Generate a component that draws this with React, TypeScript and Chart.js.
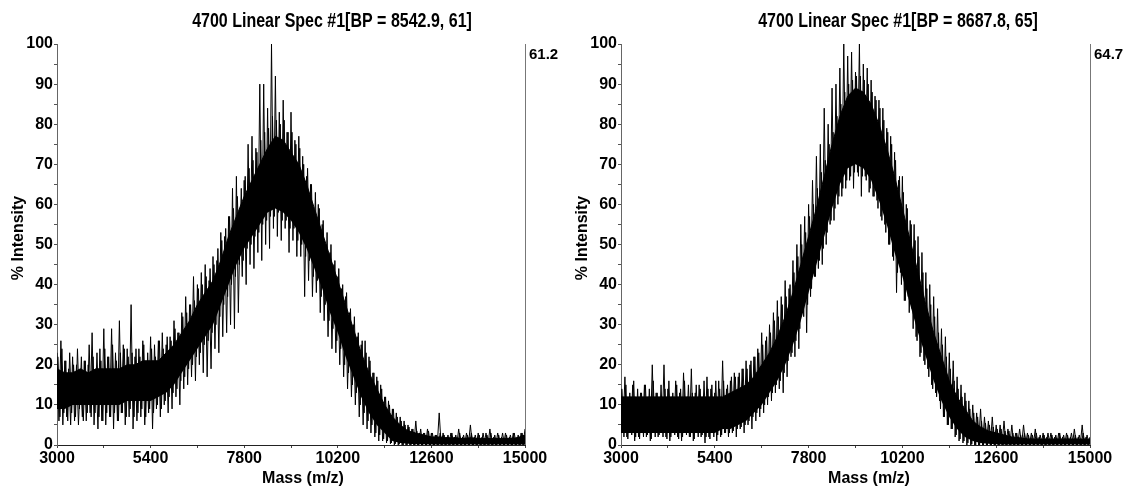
import React, { useEffect, useRef } from 'react';
import { Chart, registerables } from 'chart.js';

Chart.register(...registerables);

// ---------- axis / tick definitions ----------
const MASS_MIN = 3000;
const MASS_MAX = 15000;
const MASS_TICK_STEP = 1200;
const MASS_LABEL_STEP = 2400;
const INT_MIN = 0;
const INT_MAX = 100;
const INT_TICK_STEP = 5;
const INT_LABEL_STEP = 10;
const SPIKE_STEP = 100; // spike maxima every 100 m/z, minima halfway between
const CORE_STEP = 200;  // dense core band sampled every 200 m/z

// ---------- spectrum A (left) ----------
const TITLE_A = '4700 Linear Spec #1[BP = 8542.9, 61]';
const MAXLABEL_A = '61.2';
// tall spikes: maxima at 3000..15000, minima at 3050..14950
const spikeHiA = [
  23, 26, 21, 19, 22, 20, 17, 21, 20, 28,
  19, 24, 29, 22, 29, 23, 31, 25, 24, 35,
  22, 24, 26, 20, 27, 25, 26, 28, 25, 27,
  31, 28, 33, 37, 35, 42, 40, 43, 45, 41,
  47, 46, 53, 52, 57, 64, 67, 59, 66, 75,
  77, 74, 90, 90, 84, 100, 92, 83, 86, 78,
  83, 76, 77, 72, 67, 65, 58, 60, 55, 50,
  48, 45, 42, 39, 37, 33, 30, 27, 25, 26,
  22, 18, 17, 15, 12, 11, 9, 8, 7, 6,
  5, 4, 6, 3, 3, 4, 3, 2.5, 8, 3,
  2, 3, 2, 4, 2, 3, 5, 2, 3, 2,
  3, 4, 2, 3, 2, 3, 2, 3, 2, 3,
  4,
];
const spikeLoA = [
  6, 5, 7, 5, 6, 5, 7, 6, 8, 5,
  4, 6, 5, 7, 4, 6, 8, 5, 7, 4,
  6, 7, 5, 8, 4, 9, 7, 10, 8, 9,
  12, 10, 14, 15, 17, 16, 20, 18, 17, 19,
  24, 23, 27, 28, 30, 29, 33, 42, 40, 45,
  44, 48, 46, 50, 49, 54, 52, 51, 54, 48,
  51, 47, 47, 37, 41, 37, 38, 33, 31, 27,
  24, 23, 20, 17, 14, 12, 10, 7, 5, 4,
  3, 2, 1, 1, 0.5, 0.3, 0, 0, 0, 0,
  0, 0, 0, 0, 0, 0, 0, 0, 0, 0,
  0, 0, 0, 0, 0, 0, 0, 0, 0, 0,
  0, 0, 0, 0, 0, 0, 0, 0, 0, 0,
];
// shorter spikes fringing the band: maxima at 3025..14925, minima at 3075..14975
const midHiA = [
  22, 24, 21, 23, 20, 24, 22, 21, 25, 22,
  23, 21, 24, 22, 25, 21, 23, 24, 22, 23,
  24, 22, 25, 23, 24, 22, 26, 24, 27, 26,
  29, 28, 32, 33, 35, 36, 39, 40, 42, 44,
  45, 49, 51, 54, 57, 59, 62, 64, 67, 69,
  71, 73, 76, 78, 79, 82, 81, 80, 81, 78,
  78, 75, 74, 70, 69, 65, 63, 59, 56, 53,
  50, 46, 44, 40, 38, 34, 32, 28, 26, 23,
  21, 18, 16, 14, 12, 10, 9, 7, 6, 5,
  4.5, 4, 3.5, 4, 3, 3.5, 3, 2.5, 3, 2.5,
  2.5, 3, 2.5, 3, 2.5, 2.5, 3, 2.5, 2.5, 3,
  2.5, 3, 2.5, 2.5, 3, 2.5, 2.5, 3, 2.5, 3,
];
const midLoA = [
  7, 8, 6, 8, 7, 9, 6, 8, 7, 8,
  7, 6, 8, 7, 8, 6, 8, 7, 9, 7,
  8, 9, 7, 9, 8, 10, 9, 11, 12, 13,
  14, 16, 17, 19, 20, 22, 23, 25, 26, 28,
  30, 32, 35, 37, 40, 42, 45, 46, 49, 50,
  52, 53, 55, 56, 57, 57, 58, 56, 56, 54,
  54, 51, 50, 47, 46, 42, 41, 37, 35, 31,
  29, 26, 24, 20, 18, 15, 13, 10, 8, 6,
  5, 3, 2.5, 1.5, 1, 0.5, 0.3, 0.2, 0, 0,
  0, 0, 0, 0, 0, 0, 0, 0, 0, 0,
  0, 0, 0, 0, 0, 0, 0, 0, 0, 0,
  0, 0, 0, 0, 0, 0, 0, 0, 0, 0,
];
const coreLoA = [
  9, 9, 10, 10, 10, 10, 10, 10, 10, 11,
  11, 11, 11, 12, 13, 15, 18, 21, 24, 27,
  30, 35, 40, 45, 49, 52, 55, 58, 59, 58,
  56, 53, 49, 44, 39, 33, 28, 22, 17, 12,
  8, 5, 3, 1, 0.5, 0.3, 0.2, 0.2, 0.1, 0.1,
  0.1, 0.1, 0.1, 0.1, 0.1, 0.1, 0.1, 0.1, 0.1, 0.1,
  0.1,
];
const coreHiA = [
  19, 18, 18, 19, 18, 19, 19, 19, 19, 20,
  20, 21, 21, 21, 23, 25, 28, 31, 35, 38,
  41, 46, 52, 57, 62, 66, 70, 74, 77, 76,
  73, 70, 65, 59, 53, 47, 41, 35, 29, 23,
  18, 14, 10, 7, 5, 3.5, 3, 2.5, 2, 2,
  1.8, 1.8, 1.6, 1.8, 1.6, 1.6, 1.6, 1.6, 1.6, 1.8,
  2.5,
];

// ---------- spectrum B (right) ----------
const TITLE_B = '4700 Linear Spec #1[BP = 8687.8, 65]';
const MAXLABEL_B = '64.7';
const spikeHiB = [
  14, 17, 12, 15, 11, 13, 15, 12, 20, 13,
  11, 20, 14, 12, 16, 13, 18, 12, 19, 13,
  15, 12, 17, 14, 13, 16, 21, 14, 16, 18,
  17, 19, 21, 20, 22, 24, 28, 26, 30, 33,
  36, 37, 41, 39, 46, 50, 55, 57, 60, 66,
  72, 75, 84, 80, 89, 90, 94, 100, 97, 98,
  93, 100, 95, 94, 91, 87, 86, 84, 79, 77,
  73, 66, 67, 60, 56, 55, 52, 48, 43, 40,
  37, 34, 29, 27, 23, 21, 17, 15, 13, 11,
  10, 8, 9, 7, 6, 7, 5, 5, 6, 4,
  5, 3, 4, 5, 3, 3, 4, 2, 3, 2,
  3, 2, 3, 2, 3, 2, 4, 2, 5, 2,
  2,
];
const spikeLoB = [
  3, 2, 3, 1, 2, 3, 2, 1, 3, 2,
  3, 2, 1, 3, 2, 1, 3, 2, 1, 3,
  2, 0.5, 2, 3, 1, 2, 3, 2, 3, 2,
  4, 3, 5, 4, 6, 7, 8, 10, 11, 13,
  14, 13, 17, 22, 22, 24, 33, 28, 37, 42,
  44, 45, 50, 55, 56, 60, 62, 64, 66, 64,
  68, 62, 67, 63, 62, 61, 57, 55, 50, 47,
  38, 43, 36, 37, 34, 27, 22, 21, 19, 15,
  13, 11, 7, 5, 4, 2, 1, 0.5, 0, 0,
  0, 0, 0, 0, 0, 0, 0, 0, 0, 0,
  0, 0, 0, 0, 0, 0, 0, 0, 0, 0,
  0, 0, 0, 0, 0, 0, 0, 0, 0, 0,
];
const midHiB = [
  14, 15, 13, 16, 14, 13, 15, 14, 16, 13,
  15, 14, 16, 13, 15, 14, 16, 15, 13, 15,
  14, 16, 14, 15, 16, 14, 16, 15, 17, 17,
  18, 19, 19, 21, 22, 23, 25, 27, 28, 31,
  32, 35, 37, 40, 43, 47, 50, 53, 57, 60,
  64, 68, 71, 75, 78, 82, 85, 88, 90, 91,
  92, 92, 91, 90, 88, 86, 84, 81, 78, 75,
  71, 67, 63, 59, 55, 51, 47, 43, 39, 35,
  32, 28, 25, 22, 19, 16, 14, 12, 11, 9,
  8, 7, 6, 5.5, 5, 4.5, 4, 4, 3.5, 3.5,
  3, 3, 2.5, 3, 2.5, 2.5, 3, 2.5, 2.5, 3,
  2.5, 2.5, 3, 2.5, 2.5, 3, 2.5, 2.5, 3, 2.5,
];
const midLoB = [
  2, 1.5, 2.5, 2, 1.5, 2, 2.5, 1.5, 2, 2.5,
  2, 1.5, 2, 2.5, 1.5, 2, 2.5, 2, 1.5, 2,
  2.5, 2, 1.5, 2, 2.5, 2.5, 3, 3, 3.5, 4,
  4.5, 5, 6, 7, 8, 9, 10, 12, 13, 15,
  16, 18, 21, 23, 26, 29, 32, 35, 39, 42,
  46, 49, 53, 56, 59, 62, 64, 66, 67, 68,
  67, 67, 66, 64, 62, 59, 56, 53, 50, 46,
  43, 40, 36, 33, 29, 26, 23, 20, 17, 14,
  12, 9, 7, 5, 4, 2.5, 1.5, 1, 0.5, 0.2,
  0, 0, 0, 0, 0, 0, 0, 0, 0, 0,
  0, 0, 0, 0, 0, 0, 0, 0, 0, 0,
  0, 0, 0, 0, 0, 0, 0, 0, 0, 0,
];
const coreLoB = [
  3, 3, 3, 3, 3, 3, 3, 3, 3, 3,
  3, 3, 3, 4, 4, 5, 6, 8, 10, 13,
  16, 20, 25, 31, 38, 45, 52, 59, 65, 69,
  70, 69, 66, 61, 55, 48, 42, 35, 28, 22,
  16, 11, 7, 4, 2, 1, 0.5, 0.3, 0.2, 0.1,
  0.1, 0.1, 0.1, 0.1, 0.1, 0.1, 0.1, 0.1, 0.1, 0.1,
  0.1,
];
const coreHiB = [
  12, 12, 12, 12, 12, 12, 12, 12, 12, 12,
  12, 12, 12, 12, 13, 14, 15, 17, 20, 23,
  27, 32, 38, 45, 52, 59, 67, 75, 82, 87,
  89, 88, 85, 80, 74, 67, 59, 51, 43, 35,
  28, 22, 16, 12, 9, 6, 4.5, 3.5, 3, 2.5,
  2, 1.8, 1.5, 1.5, 1.5, 1.5, 1.5, 1.5, 1.5, 1.5,
  1.5,
];

// ---------- helpers ----------
const FONT_FAMILY = '"Liberation Sans", Arial, Helvetica, sans-serif';

function zigzag(hi: number[], lo: number[], start: number) {
  const pts: { x: number; y: number }[] = [];
  for (let i = 0; i < hi.length; i++) {
    pts.push({ x: start + i * SPIKE_STEP, y: hi[i] });
    if (i < lo.length) pts.push({ x: start + i * SPIKE_STEP + SPIKE_STEP / 2, y: lo[i] });
  }
  return pts;
}

function corePoints(vals: number[]) {
  return vals.map((v, i) => ({ x: MASS_MIN + i * CORE_STEP, y: v }));
}

interface Spec {
  title: string;
  maxLabel: string;
  spikeHi: number[];
  spikeLo: number[];
  midHi: number[];
  midLo: number[];
  coreLo: number[];
  coreHi: number[];
  padRight: number;
  titleX: number;
  massX: number;
}

const SPEC_A: Spec = {
  title: TITLE_A, maxLabel: MAXLABEL_A, spikeHi: spikeHiA, spikeLo: spikeLoA,
  midHi: midHiA, midLo: midLoA,
  coreLo: coreLoA, coreHi: coreHiA, padRight: 39, titleX: 332, massX: 303,
};
const SPEC_B: Spec = {
  title: TITLE_B, maxLabel: MAXLABEL_B, spikeHi: spikeHiB, spikeLo: spikeLoB,
  midHi: midHiB, midLo: midLoB,
  coreLo: coreLoB, coreHi: coreHiB, padRight: 38, titleX: 334, massX: 305,
};

function decorPlugin(spec: Spec) {
  return {
    id: 'decor',
    afterDraw(chart: any) {
      const { ctx, chartArea } = chart;
      ctx.save();
      ctx.fillStyle = '#000';
      // title (tall lettering as in the reference)
      ctx.save();
      ctx.font = `bold 16px ${FONT_FAMILY}`;
      ctx.textAlign = 'center';
      ctx.textBaseline = 'middle';
      ctx.translate(spec.titleX, 21);
      ctx.scale(1, 1.25);
      ctx.fillText(spec.title, 0, 0);
      ctx.restore();
      // y axis title
      ctx.save();
      ctx.font = `bold 16px ${FONT_FAMILY}`;
      ctx.textAlign = 'center';
      ctx.textBaseline = 'middle';
      ctx.translate(19, 238);
      ctx.rotate(-Math.PI / 2);
      ctx.fillText('% Intensity', 0, 0);
      ctx.restore();
      // x axis title
      ctx.font = `bold 16px ${FONT_FAMILY}`;
      ctx.textAlign = 'center';
      ctx.textBaseline = 'middle';
      ctx.fillText('Mass (m/z)', spec.massX, 479);
      // right frame line
      ctx.strokeStyle = '#777';
      ctx.lineWidth = 1;
      ctx.beginPath();
      const rx = Math.round(chartArea.right) + 0.5;
      ctx.moveTo(rx, chartArea.top);
      ctx.lineTo(rx, chartArea.bottom);
      ctx.stroke();
      // max intensity label
      ctx.font = `bold 15px ${FONT_FAMILY}`;
      ctx.textAlign = 'left';
      ctx.textBaseline = 'middle';
      ctx.fillText(spec.maxLabel, chartArea.right + 4, 55);
      ctx.restore();
    },
  };
}

function makeConfig(spec: Spec): any {
  const tickFont = { family: FONT_FAMILY, size: 16, weight: 'bold' as const };
  return {
    type: 'line',
    data: {
      datasets: [
        {
          data: corePoints(spec.coreLo),
          borderWidth: 0,
          borderColor: '#000',
          pointRadius: 0,
          fill: false,
          order: 4,
        },
        {
          data: corePoints(spec.coreHi),
          borderWidth: 1,
          borderColor: '#000',
          backgroundColor: '#000',
          pointRadius: 0,
          fill: '-1',
          order: 3,
        },
        {
          data: zigzag(spec.midHi, spec.midLo, MASS_MIN + SPIKE_STEP / 4),
          borderWidth: 1,
          borderColor: '#000',
          pointRadius: 0,
          fill: false,
          order: 1,
        },
        {
          data: zigzag(spec.spikeHi, spec.spikeLo, MASS_MIN),
          borderWidth: 1,
          borderColor: '#000',
          pointRadius: 0,
          fill: false,
          order: 0,
        },
      ],
    },
    options: {
      animation: false,
      responsive: false,
      events: [],
      layout: { padding: { top: 44, right: spec.padRight, left: 0, bottom: 0 } },
      elements: { line: { tension: 0 } },
      plugins: {
        legend: { display: false },
        tooltip: { enabled: false },
        title: { display: false },
      },
      scales: {
        x: {
          type: 'linear',
          min: MASS_MIN,
          max: MASS_MAX,
          afterFit: (s: any) => { s.height = 46; },
          ticks: {
            stepSize: MASS_TICK_STEP,
            autoSkip: false,
            maxRotation: 0,
            padding: 1,
            color: '#000',
            font: tickFont,
            callback: (v: number) => ((v - MASS_MIN) % MASS_LABEL_STEP === 0 ? String(v) : ''),
          },
          grid: { drawOnChartArea: false, tickLength: 3, color: '#444' },
          border: { color: '#222', width: 1 },
        },
        y: {
          type: 'linear',
          min: INT_MIN,
          max: INT_MAX,
          afterFit: (s: any) => { s.width = 57; },
          ticks: {
            stepSize: INT_TICK_STEP,
            autoSkip: false,
            padding: 1,
            color: '#000',
            font: tickFont,
            callback: (v: number) => (v % INT_LABEL_STEP === 0 ? String(v) : ''),
          },
          grid: { drawOnChartArea: false, tickLength: 3, color: '#555' },
          border: { color: '#666', width: 1 },
        },
      },
    },
    plugins: [decorPlugin(spec)],
  };
}

function SpectrumChart({ spec, left }: { spec: Spec; left: number }) {
  const ref = useRef<HTMLCanvasElement>(null);
  useEffect(() => {
    const chart = new Chart(ref.current as HTMLCanvasElement, makeConfig(spec));
    return () => chart.destroy();
  }, [spec]);
  return (
    <canvas
      ref={ref}
      width={564}
      height={491}
      style={{ position: 'absolute', left, top: 0, width: 564, height: 491 }}
    />
  );
}

export default function App() {
  return (
    <div
      style={{
        position: 'fixed', left: 0, top: 0, width: 1128, height: 491,
        background: '#fff', overflow: 'hidden',
      }}
    >
      <SpectrumChart spec={SPEC_A} left={0} />
      <SpectrumChart spec={SPEC_B} left={564} />
    </div>
  );
}
